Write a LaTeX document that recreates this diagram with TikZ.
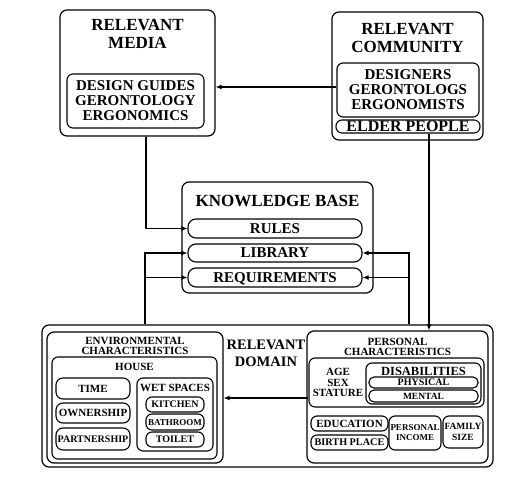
\documentclass[tikz,border=0pt]{standalone}
\usepackage{fontspec}
\setmainfont{Liberation Serif}
\usetikzlibrary{arrows.meta}

\tikzset{
  panel/.style={draw,line width=1.2pt,rounded corners=7pt,inner sep=0pt},
  item/.style={draw,line width=1.1pt,rounded corners=6pt,inner sep=0pt,align=center},
  pill/.style={item,rounded corners=#1},
  titlefont/.style={font=\bfseries\fontsize{17}{18}\selectfont},
  textfont/.style={font=\bfseries\fontsize{15}{15}\selectfont},
  smallfont/.style={font=\bfseries\fontsize{11}{10.5}\selectfont},
  tinyfont/.style={font=\bfseries\fontsize{9}{10}\selectfont},
  rowtext/.style={font=\bfseries\fontsize{15}{15}\selectfont,text height=10pt,text depth=0pt},
  leaftext/.style={font=\bfseries\fontsize{#1}{#1}\selectfont,text height=0.68*#1 pt,text depth=0pt},
  leaftext/.default=10.5,
  link/.style={line width=1.1pt,-{Latex[length=6pt,width=5pt]}}
}

\begin{document}
\begin{tikzpicture}[x=1pt,y=-1pt]
\useasboundingbox (0,0) rectangle (506,489);

% Relevant media
\node[panel,minimum width=155pt,minimum height=126pt] (media) at (137.5,73) {};
\node[titlefont,align=center] (mediatitle) at (137.5,34) {RELEVANT\\MEDIA};
\node[item,textfont,minimum width=137pt,minimum height=54pt] (guides) at (135.5,101) {DESIGN GUIDES\\GERONTOLOGY\\ERGONOMICS};

% Relevant community
\node[panel,minimum width=151pt,minimum height=128pt] (community) at (407.5,76) {};
\node[titlefont,align=center] (commtitle) at (407.5,37.5) {RELEVANT\\COMMUNITY};
\node[item,textfont,minimum width=142pt,minimum height=54pt] (experts) at (408,90) {DESIGNERS\\GERONTOLOGS\\ERGONOMISTS};
\node[pill=6pt,leaftext=16,minimum width=144pt,minimum height=13pt] (elder) at (408,126.5) {ELDER PEOPLE};

% Knowledge base
\node[panel,minimum width=191pt,minimum height=111pt] (kb) at (277.5,237.5) {};
\node[titlefont] (kbtitle) at (277.5,201) {KNOWLEDGE BASE};
\node[pill=8pt,rowtext,minimum width=174pt,minimum height=19pt] (rules) at (275,228.5) {RULES};
\node[pill=8pt,rowtext,minimum width=174pt,minimum height=18pt] (library) at (275,253) {LIBRARY};
\node[pill=8pt,rowtext,minimum width=174pt,minimum height=19pt] (requirements) at (275,277.5) {REQUIREMENTS};

% Relevant domain
\node[panel,minimum width=451pt,minimum height=142pt] (domain) at (267.5,396) {};
\node[font=\bfseries\fontsize{14.5}{17}\selectfont,align=center] (domaintitle) at (266,353.5) {RELEVANT\\DOMAIN};

% Environmental characteristics
\node[panel,minimum width=176pt,minimum height=131pt] (env) at (135,397.5) {};
\node[smallfont,align=center] (envtitle) at (135,346) {ENVIRONMENTAL\\CHARACTERISTICS};
\node[item,minimum width=165pt,minimum height=102pt] (house) at (134.5,408) {};
\node[smallfont] (housetitle) at (134.5,367) {HOUSE};
\node[pill=7pt,leaftext=11,minimum width=74pt,minimum height=21pt] (time) at (93,388.5) {TIME};
\node[pill=7pt,leaftext=11,minimum width=74pt,minimum height=20pt] (ownership) at (93,413) {OWNERSHIP};
\node[pill=7pt,leaftext=10,minimum width=74pt,minimum height=22pt] (partnership) at (93,439) {PARTNERSHIP};
\node[item,minimum width=76pt,minimum height=73pt] (wet) at (175,414.5) {};
\node[smallfont] (wettitle) at (175,388) {WET SPACES};
\node[pill=6pt,leaftext=10,minimum width=58pt,minimum height=15pt] (kitchen) at (175,404.5) {KITCHEN};
\node[pill=6pt,leaftext=9,minimum width=58pt,minimum height=16pt] (bathroom) at (175,422) {BATHROOM};
\node[pill=6pt,leaftext=10,minimum width=58pt,minimum height=15pt] (toilet) at (175,439.5) {TOILET};

% Personal characteristics
\node[panel,minimum width=181pt,minimum height=132pt] (personal) at (397.5,397) {};
\node[smallfont,align=center] (perstitle) at (397.5,347) {PERSONAL\\CHARACTERISTICS};
\node[item,minimum width=175pt,minimum height=49pt] (body) at (396.5,382.5) {};
\node[smallfont,align=center] (bodytext) at (338,382.5) {AGE\\SEX\\STATURE};
\node[item,minimum width=115pt,minimum height=41pt] (disab) at (423.5,383.5) {};
\node[font=\bfseries\fontsize{12.5}{12.5}\selectfont] (disabtitle) at (423.5,371) {DISABILITIES};
\node[pill=5pt,leaftext=10,minimum width=109pt,minimum height=11pt] (physical) at (423.5,382.5) {PHYSICAL};
\node[pill=5pt,leaftext=9.5,minimum width=109pt,minimum height=12pt] (mental) at (423.5,396) {MENTAL};
\node[pill=6pt,leaftext=11,minimum width=77pt,minimum height=15pt] (education) at (349.5,423.5) {EDUCATION};
\node[pill=6pt,leaftext=10.2,minimum width=77pt,minimum height=15pt] (birthplace) at (349.5,442.5) {BIRTH PLACE};
\node[item,tinyfont,minimum width=52pt,minimum height=34pt] (income) at (415,433) {PERSONAL\\INCOME};
\node[item,font=\bfseries\fontsize{9.5}{10.5}\selectfont,minimum width=40pt,minimum height=32pt] (family) at (463,432) {FAMILY\\SIZE};

% Links
\coordinate (lbus) at (145,252);
\coordinate (rbus) at (409,252);
\draw[link] ([yshift=3pt]experts.west) -- ([yshift=3pt]experts.west -| media.east);
\draw[link] ([xshift=8.5pt]media.south) |- (rules.west);
\draw[link] (lbus |- domain.north) |- (library.west);
\draw[link] (lbus |- requirements.west) -- (requirements.west);
\draw[link] (rbus |- domain.north) |- (library.east);
\draw[link] (rbus |- requirements.east) -- (requirements.east);
\draw[link] ([xshift=21pt]elder.south) -- ([xshift=21pt]elder.south |- personal.north);
\draw[link] ([yshift=-15.5pt]body.west) -- ([yshift=-15.5pt]body.west -| env.east);
\end{tikzpicture}
\end{document}
